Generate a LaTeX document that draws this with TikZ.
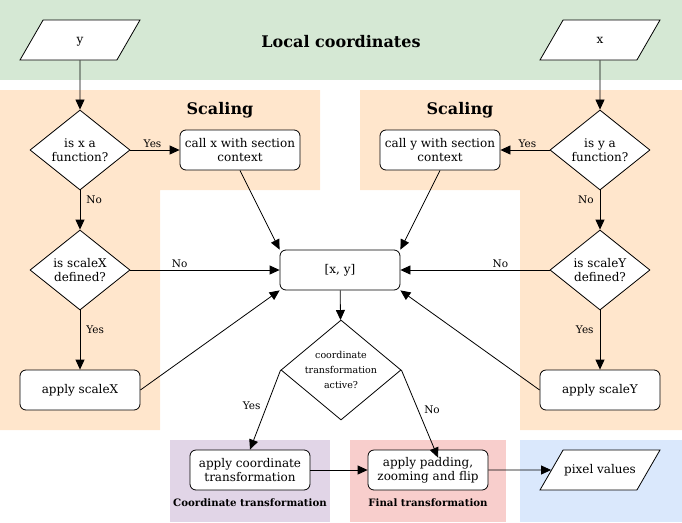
\documentclass[tikz,border=0pt]{standalone}
\usepackage{fontspec}
\setmainfont{DejaVu Serif}
\usetikzlibrary{arrows.meta, shapes.geometric, calc}
\definecolor{lgreen}{HTML}{D5E8D4}
\definecolor{lorange}{HTML}{FFE6CC}
\definecolor{lpurple}{HTML}{E1D5E7}
\definecolor{lred}{HTML}{F8CECC}
\definecolor{lblue}{HTML}{DAE8FC}

\begin{document}
\begin{tikzpicture}[x=1pt, y=-1pt,
  box/.style={draw, line width=0.8pt, rounded corners=6pt, fill=white, minimum width=120pt,
    minimum height=40pt, align=center, inner sep=2pt, font=\fontsize{12}{14}\selectfont},
  decide/.style={draw, line width=0.8pt, diamond, fill=white, minimum width=100pt,
    minimum height=80pt, aspect=1.25, align=center, inner sep=0pt, font=\fontsize{12}{14}\selectfont},
  io/.style={draw, line width=0.8pt, trapezium, trapezium left angle=60, trapezium right angle=120,
    trapezium stretches body, fill=white, minimum width=120pt, text height=9pt, text depth=3pt,
    inner xsep=0pt, inner ysep=14pt, font=\fontsize{12}{14}\selectfont},
  flow/.style={-{Triangle[length=10pt, width=9pt]}, line width=0.8pt},
  lbl/.style={font=\fontsize{10.5}{12}\selectfont, inner sep=2pt},
  zone/.style={font=\fontsize{16}{18}\selectfont\bfseries},
  tag/.style={font=\fontsize{10.2}{12}\selectfont\bfseries}]
\useasboundingbox (0,0) rectangle (682,522);
% background regions
\fill[lgreen] (0,0) rectangle (682,80);
\fill[lorange] (0,90) -- (320,90) -- (320,190) -- (160,190) -- (160,430) -- (0,430) -- cycle;
\fill[lorange] (360,90) -- (682,90) -- (682,430) -- (520,430) -- (520,190) -- (360,190) -- cycle;
\fill[lpurple] (170,440) rectangle (330,522);
\fill[lred] (350,440) rectangle (506,522);
\fill[lblue] (520,440) rectangle (682,522);
\node[zone] (tlocal) at (341,42) {Local coordinates};
\node[zone] (tscalel) at (220,110) {Scaling};
\node[zone] (tscaler) at (460,110) {Scaling};
\node[tag] (tcoord) at (250,503) {Coordinate transformation};
\node[tag] (tfinal) at (428,503) {Final transformation};
% inputs
\node[io] (iny) at (80,40) {y};
\node[io] (inx) at (600,40) {x};
% left branch
\node[decide] (funx) at (80,150) {is x a\\function?};
\node[box] (callx) at (240,150) {call x with section\\context};
\node[decide] (defx) at (80,270) {is scaleX\\defined?};
\node[box] (scalex) at (80,390) {apply scaleX};
% right branch
\node[decide] (funy) at (600,150) {is y a\\function?};
\node[box] (cally) at (440,150) {call y with section\\context};
\node[decide] (defy) at (600,270) {is scaleY\\defined?};
\node[box] (scaley) at (600,390) {apply scaleY};
% merge
\node[box] (xy) at (340,270) {[x, y]};
\node[decide, minimum width=120pt, minimum height=100pt, font=\fontsize{9.5}{15}\selectfont]
  (trans) at (341,370) {coordinate\\transformation\\active?};
\node[box] (coord) at (250,470) {apply coordinate\\transformation};
\node[box] (pad) at (428,470) {apply padding,\\zooming and flip};
\node[io] (pix) at (600,470) {pixel values};
% connectors
\draw[flow] (iny) -- (funx);
\draw[flow] (inx) -- (funy);
\draw[flow] (funx) -- node[lbl, above, pos=0.45] {Yes} (callx);
\draw[flow] (funx) -- node[lbl, right, pos=0.25, xshift=4pt] {No} (defx);
\draw[flow] (defx) -- node[lbl, above, pos=0.33] {No} (xy);
\draw[flow] (defx) -- node[lbl, right, pos=0.33, xshift=4pt] {Yes} (scalex);
\draw[flow] (funy) -- node[lbl, above, pos=0.45] {Yes} (cally);
\draw[flow] (funy) -- node[lbl, left, pos=0.25, xshift=-4pt] {No} (defy);
\draw[flow] (defy) -- node[lbl, above, pos=0.33] {No} (xy);
\draw[flow] (defy) -- node[lbl, left, pos=0.33, xshift=-4pt] {Yes} (scaley);
\draw[flow] (callx.south) -- (xy.north west);
\draw[flow] (cally.south) -- (xy.north east);
\draw[flow] (scalex.east) -- (xy.south west);
\draw[flow] (scaley.west) -- (xy.south east);
\draw[flow] (xy) -- (trans);
\draw[flow] (trans.west) -- node[lbl, left, pos=0.45, xshift=-4pt] {Yes} (coord.north);
\draw[flow] (trans.east) -- node[lbl, right, pos=0.45, xshift=4pt] {No} ($(pad.north)+(10,8)$);
\draw[flow] (coord) -- (pad);
\draw[flow] (pad) -- (pix);
\end{tikzpicture}
\end{document}
